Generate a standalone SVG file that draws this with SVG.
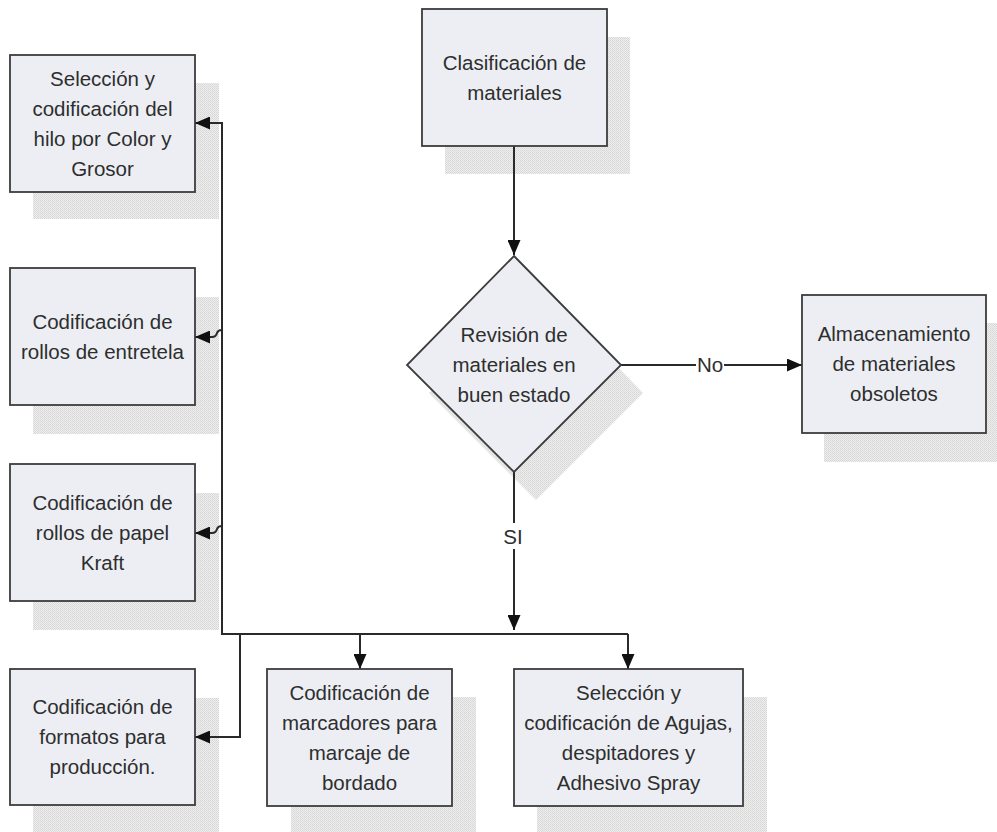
<svg xmlns="http://www.w3.org/2000/svg" width="997" height="832" viewBox="0 0 997 832">
  <defs>
    <pattern id="dots" width="2" height="2" patternUnits="userSpaceOnUse">
      <rect width="2" height="2" fill="#eeeeee"/>
      <rect width="1" height="1" fill="#d6d6d6"/>
      <rect x="1" y="1" width="1" height="1" fill="#dcdcdc"/>
    </pattern>
    <marker id="arrow" markerUnits="userSpaceOnUse" markerWidth="15" markerHeight="13" refX="15" refY="6.5" orient="auto">
      <path d="M0,0 L15,6.5 L0,13 Z" fill="#111"/>
    </marker>
    <style>
      .shadow { fill: url(#dots); }
      .box { fill: #eceef4; stroke: #3c3c3c; stroke-width: 1.8; }
      .lbl { font-family: "Liberation Sans", Arial, sans-serif; font-size: 20.5px; fill: #2e2e2e; text-anchor: middle; }
      .conn { fill: none; stroke: #2a2a2a; stroke-width: 2; }
    </style>
  </defs>
  <rect width="997" height="832" fill="#ffffff"/>

  <!-- drop shadows -->
  <g id="shadows">
    <rect class="shadow" x="445" y="37" width="185" height="137"/>
    <rect class="shadow" x="33" y="83" width="186" height="136"/>
    <rect class="shadow" x="33" y="297" width="186" height="137"/>
    <rect class="shadow" x="33" y="493" width="186" height="137"/>
    <rect class="shadow" x="33" y="698" width="186" height="137"/>
    <rect class="shadow" x="291" y="697" width="185" height="137"/>
    <rect class="shadow" x="537" y="697" width="230" height="137"/>
    <rect class="shadow" x="824" y="323" width="184" height="139"/>
    <polygon class="shadow" points="536,283 643,393 536,500 429,393"/>
  </g>

  <!-- connectors -->
  <g id="connectors">
    <line class="conn" x1="514" y1="146" x2="514" y2="255" marker-end="url(#arrow)"/>
    <line class="conn" x1="621" y1="365" x2="802" y2="365" marker-end="url(#arrow)"/>
    <rect x="696" y="354" width="28" height="22" fill="#ffffff"/>
    <text class="lbl" x="710" y="372">No</text>
    <line class="conn" x1="514" y1="472" x2="514" y2="630" marker-end="url(#arrow)"/>
    <rect x="500" y="523" width="28" height="26" fill="#ffffff"/>
    <text class="lbl" x="513" y="544">SI</text>
    <!-- distribution bus -->
    <polyline class="conn" points="628,634 222,634 222,123 195,123" marker-end="url(#arrow)"/>
    <line class="conn" x1="628" y1="634" x2="628" y2="669" marker-end="url(#arrow)"/>
    <line class="conn" x1="360" y1="634" x2="360" y2="669" marker-end="url(#arrow)"/>
    <polyline class="conn" points="240,634 240,737 195,737" marker-end="url(#arrow)"/>
    <path class="conn" d="M222,330 Q218,330 217,333 Q216,337 212,337 L195,337" marker-end="url(#arrow)"/>
    <path class="conn" d="M222,526 Q218,526 217,529 Q216,533 212,533 L195,533" marker-end="url(#arrow)"/>
  </g>

  <g id="clasificacion">
    <rect class="box" x="422" y="9" width="185" height="137"/>
    <text class="lbl" x="514.5" y="69.5">Clasificación de</text>
    <text class="lbl" x="514.5" y="99.5">materiales</text>
  </g>

  <g id="revision">
    <polygon class="box" points="514,256 621,365 514,472 407,365"/>
    <text class="lbl" x="514" y="342">Revisión de</text>
    <text class="lbl" x="514" y="372">materiales en</text>
    <text class="lbl" x="514" y="402">buen estado</text>
  </g>

  <g id="almacenamiento">
    <rect class="box" x="802" y="295" width="184" height="138"/>
    <text class="lbl" x="894" y="341">Almacenamiento</text>
    <text class="lbl" x="894" y="371">de materiales</text>
    <text class="lbl" x="894" y="401">obsoletos</text>
  </g>

  <g id="hilo">
    <rect class="box" x="10" y="55" width="185" height="137"/>
    <text class="lbl" x="102.5" y="85.5">Selección y</text>
    <text class="lbl" x="102.5" y="115.5">codificación del</text>
    <text class="lbl" x="102.5" y="145.5">hilo por Color y</text>
    <text class="lbl" x="102.5" y="175.5">Grosor</text>
  </g>

  <g id="entretela">
    <rect class="box" x="10" y="268" width="185" height="137"/>
    <text class="lbl" x="102.5" y="328.5">Codificación de</text>
    <text class="lbl" x="102.5" y="358.5">rollos de entretela</text>
  </g>

  <g id="kraft">
    <rect class="box" x="10" y="464" width="185" height="137"/>
    <text class="lbl" x="102.5" y="509.5">Codificación de</text>
    <text class="lbl" x="102.5" y="539.5">rollos de papel</text>
    <text class="lbl" x="102.5" y="569.5">Kraft</text>
  </g>

  <g id="formatos">
    <rect class="box" x="10" y="669" width="185" height="136"/>
    <text class="lbl" x="102.5" y="714">Codificación de</text>
    <text class="lbl" x="102.5" y="744">formatos para</text>
    <text class="lbl" x="102.5" y="774">producción.</text>
  </g>

  <g id="marcadores">
    <rect class="box" x="267" y="669" width="185" height="137"/>
    <text class="lbl" x="359.5" y="699.5">Codificación de</text>
    <text class="lbl" x="359.5" y="729.5">marcadores para</text>
    <text class="lbl" x="359.5" y="759.5">marcaje de</text>
    <text class="lbl" x="359.5" y="789.5">bordado</text>
  </g>

  <g id="agujas">
    <rect class="box" x="514" y="669" width="229" height="137"/>
    <text class="lbl" x="628.5" y="699.5">Selección y</text>
    <text class="lbl" x="628.5" y="729.5">codificación de Agujas,</text>
    <text class="lbl" x="628.5" y="759.5">despitadores y</text>
    <text class="lbl" x="628.5" y="789.5">Adhesivo Spray</text>
  </g>
</svg>
